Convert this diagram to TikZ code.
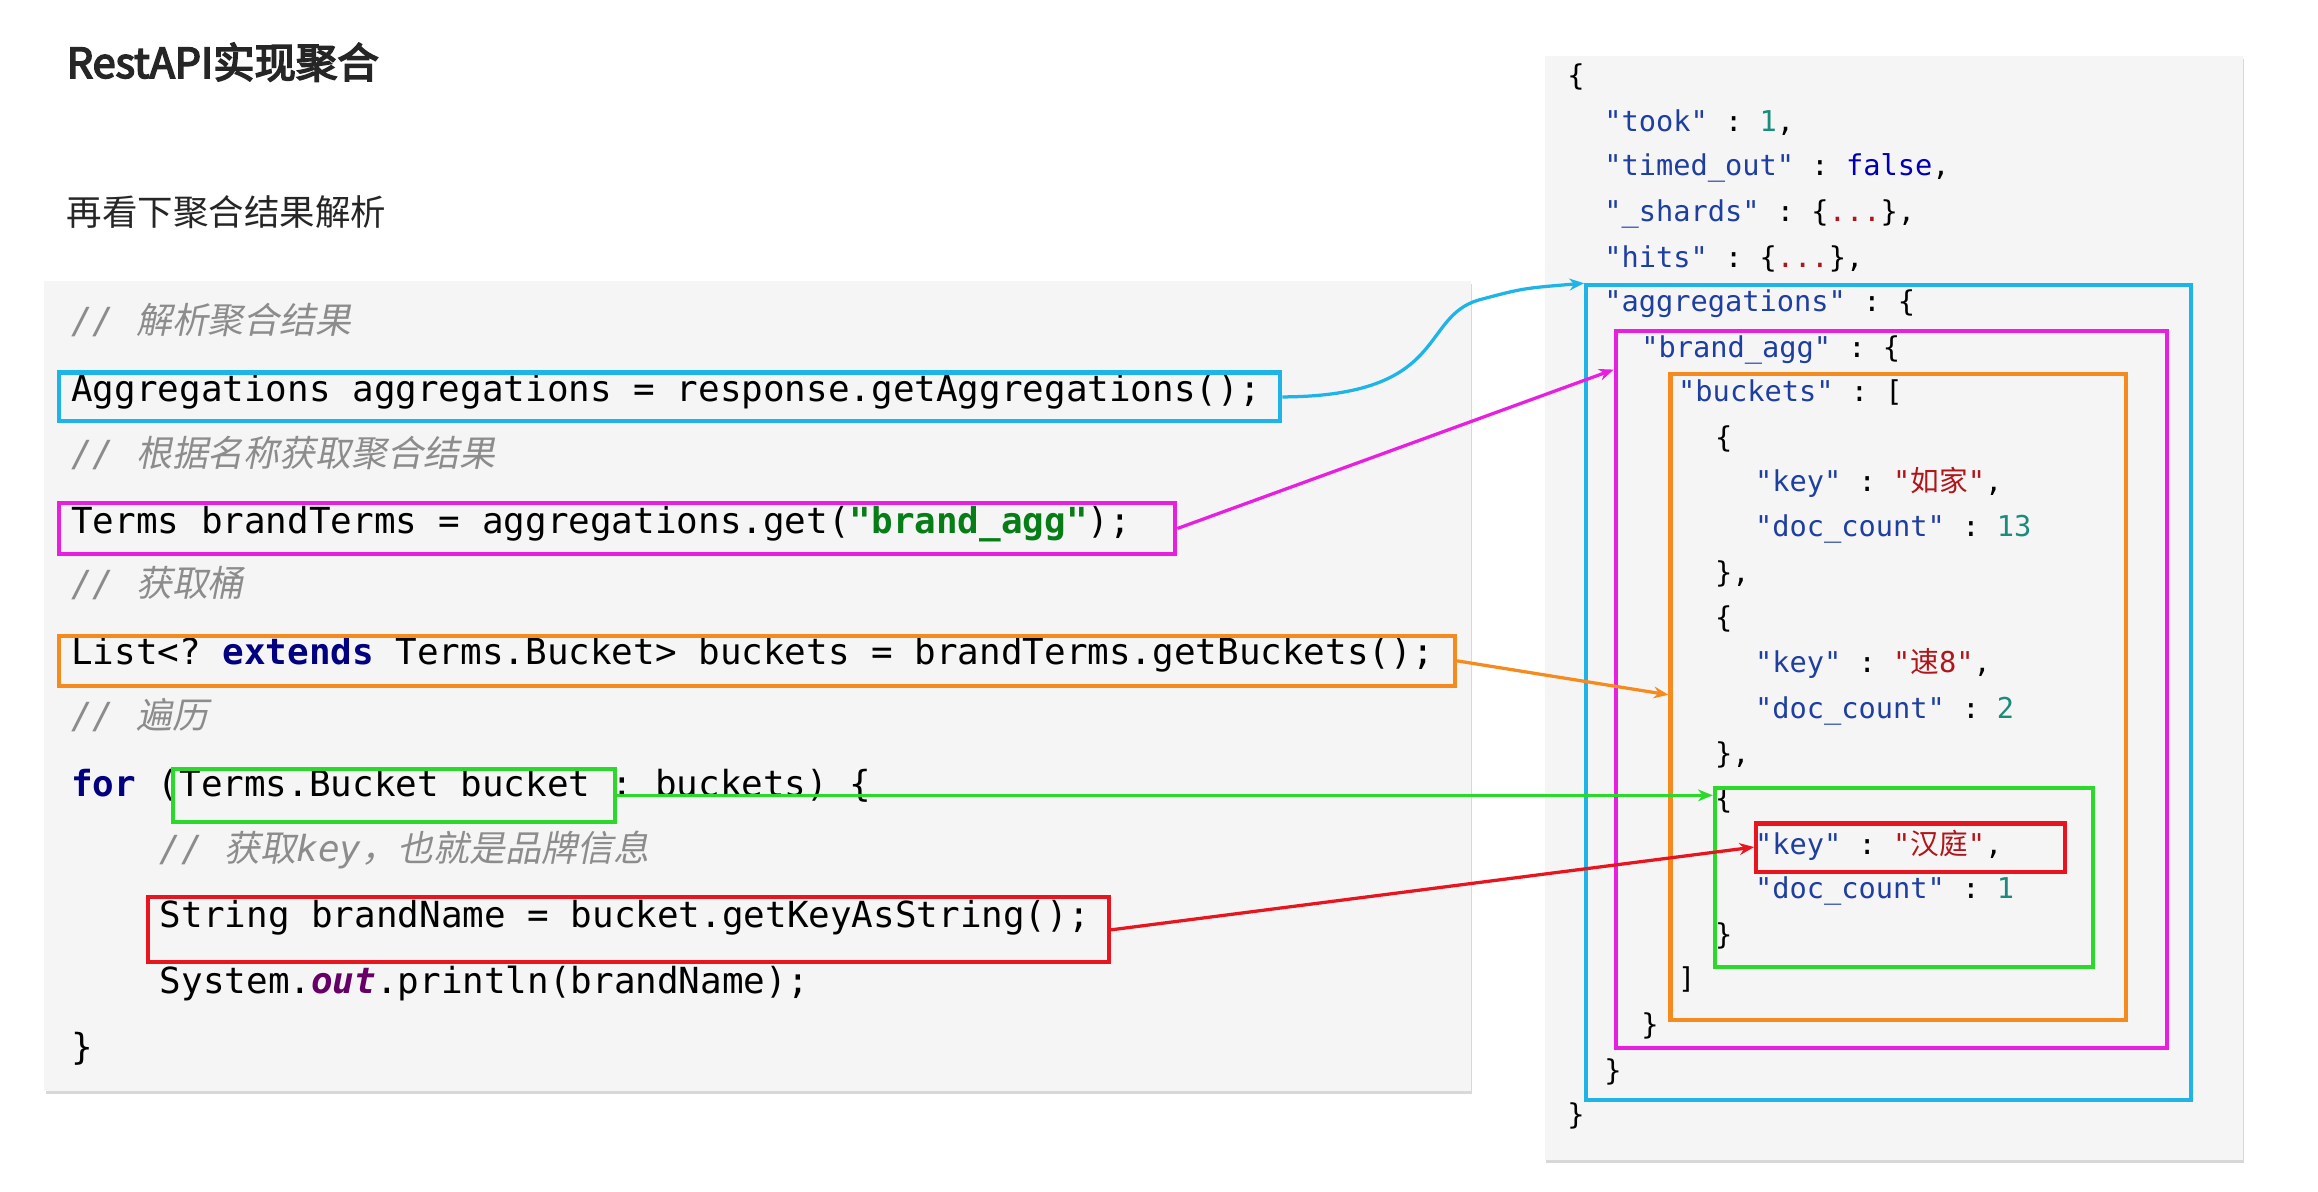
\documentclass[tikz,border=0pt]{standalone}
\usepackage{fontspec}
\setmainfont{Noto Sans CJK SC}
\setmonofont{DejaVu Sans Mono}
\newfontfamily\cjk{Noto Sans CJK SC}
\newfontfamily\cjkit{Noto Sans CJK SC}[FakeSlant=0.2]
\newfontfamily\cjkb{Noto Sans CJK SC}[FakeBold=4]
\usetikzlibrary{fit,arrows.meta,shadows}
\definecolor{cm}{HTML}{8C8C8C}
\definecolor{kw}{HTML}{000080}
\definecolor{strg}{HTML}{067D17}
\definecolor{jk}{HTML}{1F3FA0}
\definecolor{jn}{HTML}{1A8C7A}
\definecolor{js}{HTML}{B0151A}
\definecolor{cb}{HTML}{1EB4E8}
\definecolor{cmag}{HTML}{E81EE0}
\definecolor{cor}{HTML}{F58A1E}
\definecolor{cgr}{HTML}{2BD92B}
\definecolor{crd}{HTML}{E8141E}
\begin{document}
\begin{tikzpicture}[x=1pt,y=-1pt,
 code/.style={anchor=mid west,inner sep=0pt,font=\fontsize{24.3}{28}\ttfamily},
 cmt/.style={code,text=cm,font=\fontsize{24.3}{28}\ttfamily\itshape},
 js/.style={anchor=mid west,inner sep=0pt,font=\fontsize{19.4}{24}\ttfamily},
 bx/.style={draw=#1,line width=2.8pt,inner sep=0pt},
 ar/.style={draw=#1,line width=2.2pt,-{Stealth[length=10pt,width=8pt]}}]
\useasboundingbox[fill=white] (0,0) rectangle (1568,806);
\node[anchor=mid west,inner sep=0pt,font=\fontsize{28}{30}\cjkb,text=black!85] (title) at (45,50) {RestAPI实现聚合};
\node[anchor=mid west,inner sep=0pt,font=\fontsize{24}{28}\cjk,text=black!85] (sub) at (45,150) {再看下聚合结果解析};
% panels
\node[fill=black!4,drop shadow={opacity=0.3,shadow xshift=1pt,shadow yshift=-2pt},inner sep=0pt,fit={(30,190)(995,738)}] (lp) {};
\node[fill=black!4,drop shadow={opacity=0.3,shadow xshift=1pt,shadow yshift=-2pt},inner sep=0pt,fit={(1045,38)(1517,785)}] (rp) {};
% code
\node[cmt] (c1) at (48,223) {// {\cjkit 解析聚合结果}};
\node[code] (l1) at (48,269) {Aggregations aggregations = response.getAggregations();};
\node[cmt] (c2) at (48,313) {// {\cjkit 根据名称获取聚合结果}};
\node[code] (l2) at (48,358) {Terms brandTerms = aggregations.get(\textcolor{strg}{\bfseries"brand\_agg"});};
\node[cmt] (c3) at (48,401) {// {\cjkit 获取桶}};
\node[code] (l3) at (48,447) {List<? \textcolor{kw}{\bfseries extends} Terms.Bucket> buckets = brandTerms.getBuckets();};
\node[cmt] (c4) at (48,490) {// {\cjkit 遍历}};
\node[code] (l4) at (48,536) {\textcolor{kw}{\bfseries for} (Terms.Bucket bucket : buckets) \{};
\node[cmt] (c5) at (108,580) {// {\cjkit 获取}key{\cjkit ，也就是品牌信息}};
\node[code] (l5) at (108,625) {String brandName = bucket.getKeyAsString();};
\node[code] (l6) at (108,669) {System.\textcolor{violet!80!black}{\bfseries\itshape out}.println(brandName);};
\node[code] (l7) at (48,714) {\}};
% json
\node[js] (j1) at (1060,55) {\{};
\node[js] (j2) at (1085,86) {\textcolor{jk}{"took"} : \textcolor{jn}{1},};
\node[js] (j3) at (1085,116) {\textcolor{jk}{"timed\_out"} : \textcolor{blue!70!black}{false},};
\node[js] (j4) at (1085,147) {\textcolor{jk}{"\_shards"} : \{\textcolor{js}{...}\},};
\node[js] (j5) at (1085,178) {\textcolor{jk}{"hits"} : \{\textcolor{js}{...}\},};
\node[js] (j6) at (1085,208) {\textcolor{jk}{"aggregations"} : \{};
\node[js] (j7) at (1110,239) {\textcolor{jk}{"brand\_agg"} : \{};
\node[js] (j8) at (1135,269) {\textcolor{jk}{"buckets"} : [};
\node[js] (j9) at (1160,300) {\{};
\node[js] (j10) at (1187,330) {\textcolor{jk}{"key"} : \textcolor{js}{"{\cjk 如家}"},};
\node[js] (j11) at (1187,360) {\textcolor{jk}{"doc\_count"} : \textcolor{jn}{13}};
\node[js] (j12) at (1160,391) {\},};
\node[js] (j13) at (1160,422) {\{};
\node[js] (j14) at (1187,452) {\textcolor{jk}{"key"} : \textcolor{js}{"{\cjk 速}8"},};
\node[js] (j15) at (1187,483) {\textcolor{jk}{"doc\_count"} : \textcolor{jn}{2}};
\node[js] (j16) at (1160,514) {\},};
\node[js] (j17) at (1160,544) {\{};
\node[js] (j18) at (1187,575) {\textcolor{jk}{"key"} : \textcolor{js}{"{\cjk 汉庭}"},};
\node[js] (j19) at (1187,605) {\textcolor{jk}{"doc\_count"} : \textcolor{jn}{1}};
\node[js] (j20) at (1160,636) {\}};
\node[js] (j21) at (1135,666) {]};
\node[js] (j22) at (1110,697) {\}};
\node[js] (j23) at (1085,728) {\}};
\node[js] (j24) at (1060,758) {\}};
% boxes
\node[bx=cb,fit={(40,252)(866,285)}] (b1) {};
\node[bx=cmag,fit={(40,340)(795,375)}] (b2) {};
\node[bx=cor,fit={(40,430)(984,464)}] (b3) {};
\node[bx=cgr,fit={(117,520)(416,556)}] (b4) {};
\node[bx=crd,fit={(100,607)(750,651)}] (b5) {};
\node[bx=cb,fit={(1073,193)(1482,744)}] (r1) {};
\node[bx=cmag,fit={(1093,224)(1466,709)}] (r2) {};
\node[bx=cor,fit={(1130,253)(1438,690)}] (r3) {};
\node[bx=cgr,fit={(1160,533)(1416,654)}] (r4) {};
\node[bx=crd,fit={(1188,557)(1397,590)}] (r5) {};
% arrows
\draw[ar=cb] (b1.east) .. controls (980,268) and (960,215) .. (1000,203) .. controls (1030,195) .. (r1.north west);
\draw[ar=cmag] (b2.east) -- (r2.west |- 0,250);
\draw[ar=cor] (b3.east) -- (r3.west |- 0,470);
\draw[ar=cgr] (b4.east) -- (r4.west |- 0,538);
\draw[ar=crd] (b5.east) -- (r5.west |- 0,573);
\end{tikzpicture}
\end{document}
